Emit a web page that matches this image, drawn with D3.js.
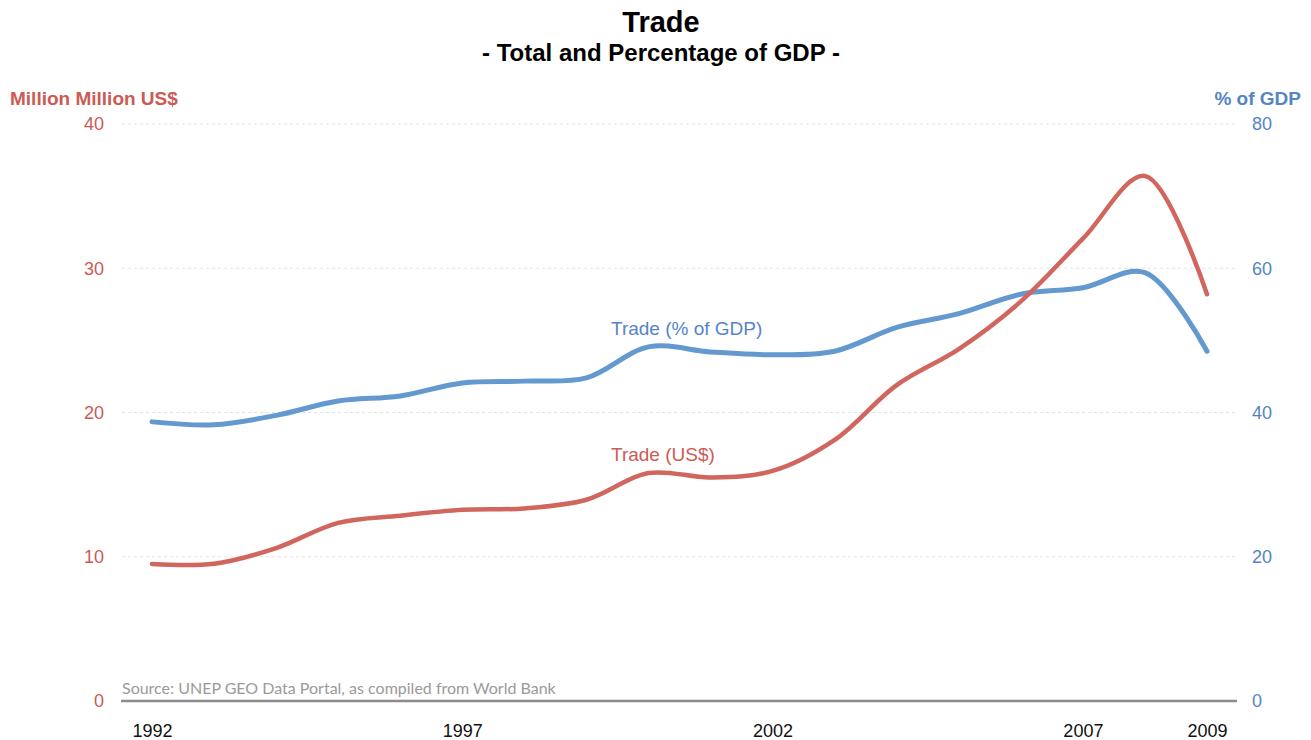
<!DOCTYPE html>
<html>
<head>
<meta charset="utf-8">
<script src="https://cdn.jsdelivr.net/npm/d3@7"></script>
<style>
  body { margin: 0; background: #fff; }
  text { font-family: "Liberation Sans", Arial, sans-serif; }
</style>
</head>
<body>
<svg id="chart" width="1311" height="740"></svg>
<script>
var width = 1311, height = 740;

// Data
var years = [1992, 1993, 1994, 1995, 1996, 1997, 1998, 1999, 2000,
             2001, 2002, 2003, 2004, 2005, 2006, 2007, 2008, 2009];
var tradeUSD = [9.5, 9.52, 10.6, 12.35, 12.85, 13.25, 13.35, 13.95, 15.8,
                15.5, 15.95, 18.1, 21.9, 24.4, 27.7, 32.05, 36.4, 28.2];
var tradeGDP = [38.7, 38.3, 39.6, 41.6, 42.3, 44.1, 44.35, 44.8, 49.1,
                48.4, 48.0, 48.5, 51.8, 53.7, 56.4, 57.3, 59.4, 48.5];
var xTicks = [1992, 1997, 2002, 2007, 2009];
var leftTicks = [0, 10, 20, 30, 40];
var rightTicks = [0, 20, 40, 60, 80];

var RED = "#d0665e", BLUE = "#6399cf";
var RED_TXT = "#cc5a55", BLUE_TXT = "#5585c6";

var svg = d3.select("#chart");

var x = d3.scaleLinear().domain([1992, 2009]).range([152, 1207]);
var yL = d3.scaleLinear().domain([0, 40]).range([701, 124]);
var yR = d3.scaleLinear().domain([0, 80]).range([701, 124]);

// Titles
svg.append("text")
    .attr("x", 661).attr("y", 32)
    .attr("text-anchor", "middle")
    .style("font-size", "29px").style("font-weight", "bold")
    .text("Trade");
svg.append("text")
    .attr("x", 661).attr("y", 61)
    .attr("text-anchor", "middle")
    .style("font-size", "24px").style("font-weight", "bold")
    .text("- Total and Percentage of GDP -");

// Axis titles
svg.append("text")
    .attr("x", 10).attr("y", 105)
    .style("font-size", "19px").style("font-weight", "bold")
    .style("fill", RED_TXT)
    .text("Million Million US$");
svg.append("text")
    .attr("x", 1301).attr("y", 105)
    .attr("text-anchor", "end")
    .style("font-size", "19px").style("font-weight", "bold")
    .style("fill", BLUE_TXT)
    .text("% of GDP");

// Gridlines
svg.append("g")
    .selectAll("line")
    .data(leftTicks.filter(function (d) { return d > 0; }))
    .enter().append("line")
    .attr("x1", 122).attr("x2", 1237)
    .attr("y1", function (d) { return yL(d); })
    .attr("y2", function (d) { return yL(d); })
    .style("stroke", "#e2e2e2")
    .style("stroke-width", 1)
    .style("stroke-dasharray", "3,3");

// Left axis
var leftAxis = svg.append("g")
    .attr("transform", "translate(112,0)")
    .call(d3.axisLeft(yL).tickValues(leftTicks).tickSize(0).tickPadding(8));
leftAxis.select(".domain").remove();
leftAxis.selectAll("text")
    .style("font-size", "18px").style("fill", RED_TXT)
    .style("font-family", "Liberation Sans, Arial, sans-serif");

// Right axis
var rightAxis = svg.append("g")
    .attr("transform", "translate(1252,0)")
    .call(d3.axisRight(yR).tickValues(rightTicks).tickSize(0).tickPadding(0));
rightAxis.select(".domain").remove();
rightAxis.selectAll("text")
    .style("font-size", "18px").style("fill", BLUE_TXT)
    .style("font-family", "Liberation Sans, Arial, sans-serif");

// Bottom axis
var bottomAxis = svg.append("g")
    .attr("transform", "translate(0,701)")
    .call(d3.axisBottom(x).tickValues(xTicks).tickFormat(d3.format("d")).tickSize(0).tickPadding(23));
bottomAxis.select(".domain").remove();
bottomAxis.selectAll("text")
    .style("font-size", "18px").style("fill", "#111")
    .style("font-family", "Liberation Sans, Arial, sans-serif");

svg.append("line")
    .attr("x1", 121).attr("x2", 1237)
    .attr("y1", 701).attr("y2", 701)
    .style("stroke", "#8c8c8c")
    .style("stroke-width", 2.5);

// Source
svg.append("text")
    .attr("x", 122).attr("y", 694)
    .style("font-family", "Lato, 'Open Sans', sans-serif")
    .style("font-size", "16px").style("fill", "#9a9a9a")
    .text("Source: UNEP GEO Data Portal, as compiled from World Bank");

// Lines
var lineL = d3.line()
    .x(function (d, i) { return x(years[i]); })
    .y(function (d) { return yL(d); })
    .curve(d3.curveCatmullRom.alpha(0.5));
var lineR = d3.line()
    .x(function (d, i) { return x(years[i]); })
    .y(function (d) { return yR(d); })
    .curve(d3.curveCatmullRom.alpha(0.5));

svg.append("path")
    .datum(tradeGDP)
    .attr("d", lineR)
    .style("fill", "none").style("stroke", BLUE)
    .style("stroke-width", 5).style("stroke-linecap", "round");
svg.append("path")
    .datum(tradeUSD)
    .attr("d", lineL)
    .style("fill", "none").style("stroke", RED)
    .style("stroke-width", 4.5).style("stroke-linecap", "round");

// Series labels
svg.append("text")
    .attr("x", 611).attr("y", 335)
    .style("font-size", "19px").style("fill", BLUE_TXT)
    .text("Trade (% of GDP)");
svg.append("text")
    .attr("x", 611).attr("y", 461)
    .style("font-size", "19px").style("fill", RED_TXT)
    .text("Trade (US$)");
</script>
</body>
</html>
